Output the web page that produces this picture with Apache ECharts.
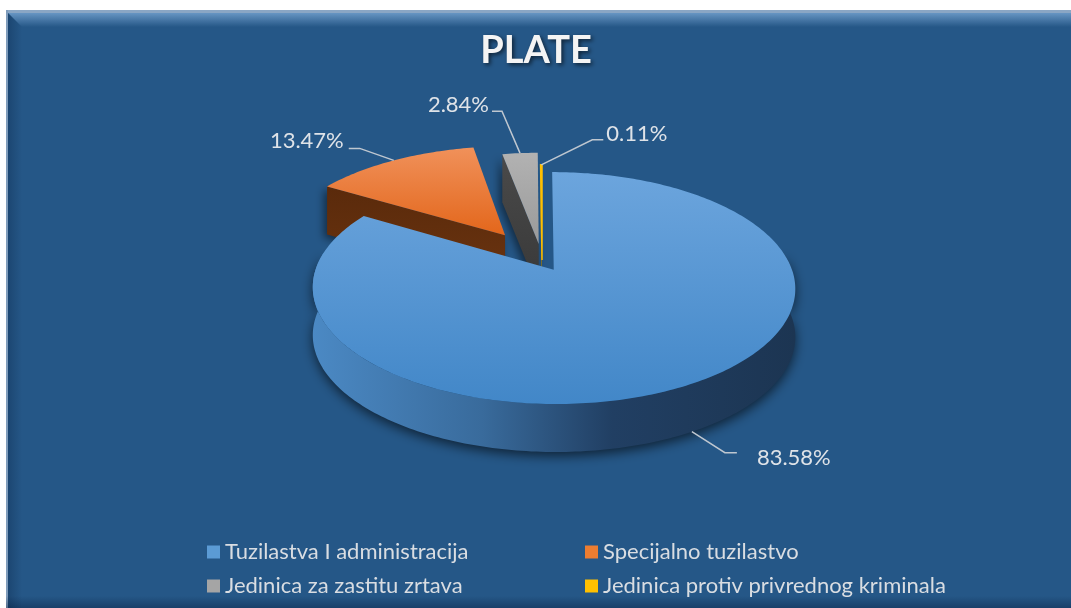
<!DOCTYPE html>
<html>
<head>
<meta charset="utf-8">
<script src="https://cdn.jsdelivr.net/npm/echarts@6/dist/echarts.min.js"></script>
<style>
html, body { margin: 0; padding: 0; background: #fff; }
#chart { width: 1071px; height: 608px; }
</style>
</head>
<body>
<div id="chart"></div>
<script>
const CATEGORIES = ['Tuzilastva I administracija', 'Specijalno tuzilastvo', 'Jedinica za zastitu zrtava', 'Jedinica protiv privrednog kriminala'];
const VALUES = [83.58, 13.47, 2.84, 0.11];
const LABELS = ['83.58%', '13.47%', '2.84%', '0.11%'];

// look of the slices
const COLORS = ['#5b9bd5', '#ed7d31', '#a5a5a5', '#ffc000'];
const TOP_COLORS = [['#6ca5dd', '#4287c8'], ['#f0915a', '#e3661b'], ['#b2b2b2', '#9a9a9a'], ['#ffd24d', '#ffc000']];
const SIDE_COLORS = [['#4b89c4', '#1c3552'], ['#5a2a0b', '#6b3410'], ['#4a4a4a', '#383838'], ['#c89600', '#a07800']];
const EXPLODE = [0.1, 0.285, 0.15, 0.0];
// leader: elbow dx, elbow dy, tail length, gap to text, text dy
const LEADER = [[33, 21, 12, 20, 5], [-34, -12, -11, 5, -7], [-18, -42, -10, 3, -6], [51, -25, 11, 3, -6]];
const DRAW_ORDER = [4, 3, 2, 1];

// 3d pie geometry
const CX = 542, CY = 260, RX = 235, RY = 110, PERSP = 0.156, DEPTH = 48;

const TOTAL = VALUES.reduce((a, b) => a + b, 0);
const START = [];
let acc = 0;
VALUES.forEach(v => { START.push(acc / TOTAL * 360); acc += v; });

const rad = a => a * Math.PI / 180;

function pt(u, v, dz) {
    const s = 1 / (1 - PERSP * v);
    return [CX + RX * u * s, CY + RY * v * s + dz];
}
function rim(ou, ov, a, dz) {
    return pt(ou + Math.sin(rad(a)), ov - Math.cos(rad(a)), dz);
}
function arc(ou, ov, a0, a1, dz) {
    const n = Math.max(2, Math.ceil(Math.abs(a1 - a0)));
    const out = [];
    for (let k = 0; k <= n; k++) out.push(rim(ou, ov, a0 + (a1 - a0) * k / n, dz));
    return out;
}
const vgrad = c => ({ type: 'linear', x: 0, y: 0, x2: 0, y2: 1, colorStops: [{ offset: 0, color: c[0] }, { offset: 1, color: c[1] }] });

function renderSlice(params, api) {
    const i = params.seriesIndex;
    const a0 = START[i];
    const a1 = a0 + api.value(0) / TOTAL * 360;
    const mid = rad((a0 + a1) / 2);
    const ou = EXPLODE[i] * Math.sin(mid), ov = -EXPLODE[i] * Math.cos(mid);
    const apexTop = pt(ou, ov, 0), apexBot = pt(ou, ov, DEPTH);
    const children = [];

    if (Math.sin(rad(a0)) < -1e-6) {
        children.push({
            type: 'polygon',
            shape: { points: [apexTop, rim(ou, ov, a0, 0), rim(ou, ov, a0, DEPTH), apexBot] },
            style: { fill: vgrad(SIDE_COLORS[i]), shadowBlur: 8, shadowColor: 'rgba(0,0,0,0.5)', shadowOffsetX: -3, shadowOffsetY: 3 }
        });
    }
    if (Math.sin(rad(a1)) > 1e-6) {
        children.push({
            type: 'polygon',
            shape: { points: [apexTop, rim(ou, ov, a1, 0), rim(ou, ov, a1, DEPTH), apexBot] },
            style: { fill: vgrad(SIDE_COLORS[i]) }
        });
    }
    const w0 = Math.max(a0, 81), w1 = Math.min(a1, 279);
    if (w1 > w0) {
        children.push({
            type: 'polygon',
            shape: { points: arc(ou, ov, w0, w1, 0).concat(arc(ou, ov, w1, w0, DEPTH)) },
            style: {
                fill: {
                    type: 'linear', x: 0, y: 0, x2: 1, y2: 0,
                    colorStops: [
                        { offset: 0, color: SIDE_COLORS[i][0] },
                        { offset: 0.35, color: '#396b9c' },
                        { offset: 0.62, color: '#213f63' },
                        { offset: 1, color: SIDE_COLORS[i][1] }
                    ]
                },
                shadowBlur: 12, shadowColor: 'rgba(0,0,0,0.6)', shadowOffsetY: 4
            }
        });
    }
    children.push({
        type: 'polygon',
        shape: { points: [apexTop].concat(arc(ou, ov, a0, a1, 0)) },
        style: { fill: vgrad(TOP_COLORS[i]), stroke: i === 3 ? COLORS[3] : null, lineWidth: 1.5 }
    });

    // data label with leader line
    const front = -Math.cos(mid) > 0;
    const anchor = rim(ou, ov, (a0 + a1) / 2, front ? DEPTH : 0);
    const L = LEADER[i];
    const elbow = [anchor[0] + L[0], anchor[1] + L[1]];
    const tail = [elbow[0] + L[2], elbow[1]];
    children.push({
        type: 'polyline',
        shape: { points: [anchor, elbow, tail] },
        style: { stroke: '#bfc7d0', lineWidth: 1.5, fill: null }
    });
    children.push({
        type: 'text',
        style: {
            text: LABELS[i],
            x: tail[0] + (L[2] > 0 ? L[3] : -L[3]),
            y: tail[1] + L[4],
            align: L[2] > 0 ? 'left' : 'right',
            verticalAlign: 'middle',
            fill: '#dfe3e8',
            font: '22px Lato'
        }
    });
    return { type: 'group', children };
}

const chart = echarts.init(document.getElementById('chart'));
chart.setOption({
    animation: false,
    color: COLORS,
    title: {
        text: 'PLATE',
        left: 531,
        top: 27,
        textAlign: 'center',
        textStyle: {
            color: '#f4f4f4', fontSize: 38, fontWeight: 'bold', fontFamily: 'Lato',
            textShadowColor: 'rgba(0,0,0,0.6)', textShadowBlur: 4, textShadowOffsetX: 2, textShadowOffsetY: 2
        }
    },
    legend: {
        data: CATEGORIES,
        left: 202,
        top: 535,
        width: 760,
        icon: 'rect',
        itemWidth: 13,
        itemHeight: 13,
        itemGap: 10,
        textStyle: { color: '#d9dde2', fontSize: 22, fontFamily: 'Lato', width: 350, lineHeight: 24 }
    },
    graphic: [
        { type: 'rect', z: -10, shape: { x: 6, y: 10, width: 1065, height: 598 }, style: { fill: '#255787' } },
        { type: 'rect', z: -9, shape: { x: 6, y: 10, width: 1065, height: 3 }, style: { fill: '#8aa6c4' } },
        {
            type: 'polygon', z: -9, shape: { points: [[8, 13], [1071, 13], [1071, 27], [22, 27]] },
            style: { fill: { type: 'linear', x: 0, y: 0, x2: 0, y2: 1, colorStops: [{ offset: 0, color: 'rgba(130,175,220,0.7)' }, { offset: 1, color: 'rgba(130,175,220,0)' }] } }
        },
        { type: 'rect', z: -9, shape: { x: 6, y: 10, width: 2, height: 598 }, style: { fill: '#7f9cbb' } },
        {
            type: 'polygon', z: -9, shape: { points: [[8, 13], [22, 27], [22, 608], [8, 608]] },
            style: { fill: { type: 'linear', x: 0, y: 0, x2: 1, y2: 0, colorStops: [{ offset: 0, color: 'rgba(0,20,50,0.25)' }, { offset: 1, color: 'rgba(0,20,50,0)' }] } }
        },
        {
            type: 'rect', z: -9, shape: { x: 6, y: 596, width: 1065, height: 12 },
            style: { fill: { type: 'linear', x: 0, y: 0, x2: 0, y2: 1, colorStops: [{ offset: 0, color: 'rgba(0,20,50,0)' }, { offset: 1, color: 'rgba(0,20,50,0.35)' }] } }
        }
    ],
    series: CATEGORIES.map((name, i) => ({
        type: 'custom',
        name: name,
        coordinateSystem: 'none',
        z: DRAW_ORDER[i],
        itemStyle: { color: COLORS[i] },
        renderItem: renderSlice,
        data: [VALUES[i]]
    }))
});
</script>
</body>
</html>
